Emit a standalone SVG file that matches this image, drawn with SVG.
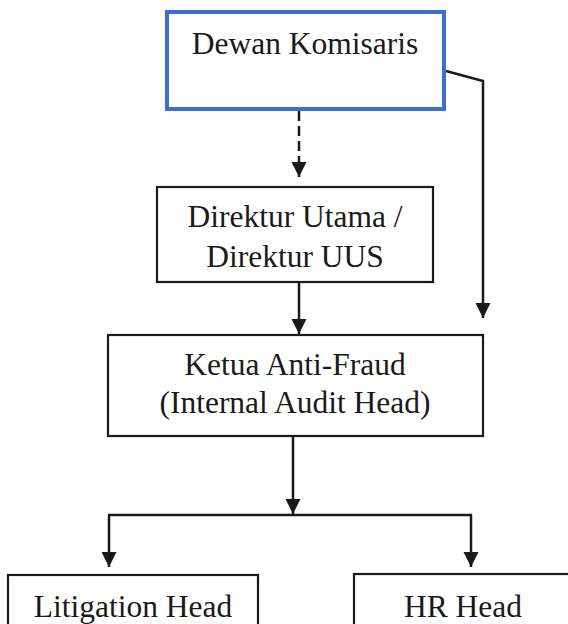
<svg xmlns="http://www.w3.org/2000/svg" width="568" height="624" viewBox="0 0 568 624">
<style>
.box{fill:#fff;stroke:#1a1a1a;stroke-width:2.2}
.blue{fill:#fff;stroke:#3d6fcf;stroke-width:4}
.t{font-family:"Liberation Serif","Times New Roman",serif;font-size:31.5px;fill:#1a1a1a;text-anchor:middle}
.ln{fill:none;stroke:#1a1a1a;stroke-width:2.5}
</style>
<defs>
<marker id="ah" markerUnits="userSpaceOnUse" markerWidth="16" markerHeight="16" viewBox="0 0 16 16" refX="15" refY="8" orient="auto">
<path d="M0,0.5 L15,8 L0,15.5 Z" fill="#1a1a1a"/>
</marker>
</defs>
<rect width="568" height="624" fill="#fff"/>
<g id="connectors">
<line class="ln" x1="299" y1="111" x2="299" y2="177" stroke-dasharray="10 5" marker-end="url(#ah)"/>
<polyline class="ln" points="446,71 483,81 483,318" marker-end="url(#ah)"/>
<line class="ln" x1="299" y1="283" x2="299" y2="334" marker-end="url(#ah)"/>
<line class="ln" x1="293" y1="437" x2="293" y2="514" marker-end="url(#ah)"/>
<line class="ln" x1="108" y1="515" x2="472" y2="515"/>
<line class="ln" x1="109" y1="515" x2="109" y2="567" marker-end="url(#ah)"/>
<line class="ln" x1="471" y1="515" x2="471" y2="567" marker-end="url(#ah)"/>
</g>
<g id="dewan">
<rect class="blue" x="167" y="12" width="277" height="97"/>
<text class="t" x="305" y="54">Dewan Komisaris</text>
</g>
<g id="direktur">
<rect class="box" x="157" y="187" width="276" height="95"/>
<text class="t" x="295" y="227">Direktur Utama /</text>
<text class="t" x="295" y="267">Direktur UUS</text>
</g>
<g id="ketua">
<rect class="box" x="108" y="335" width="375" height="101"/>
<text class="t" x="295" y="375">Ketua Anti-Fraud</text>
<text class="t" x="295" y="413">(Internal Audit Head)</text>
</g>
<g id="litigation">
<rect class="box" x="8" y="575" width="250" height="60"/>
<text class="t" x="133" y="617">Litigation Head</text>
</g>
<g id="hr">
<rect class="box" x="354" y="574" width="220" height="60"/>
<text class="t" x="463" y="617">HR Head</text>
</g>
</svg>
